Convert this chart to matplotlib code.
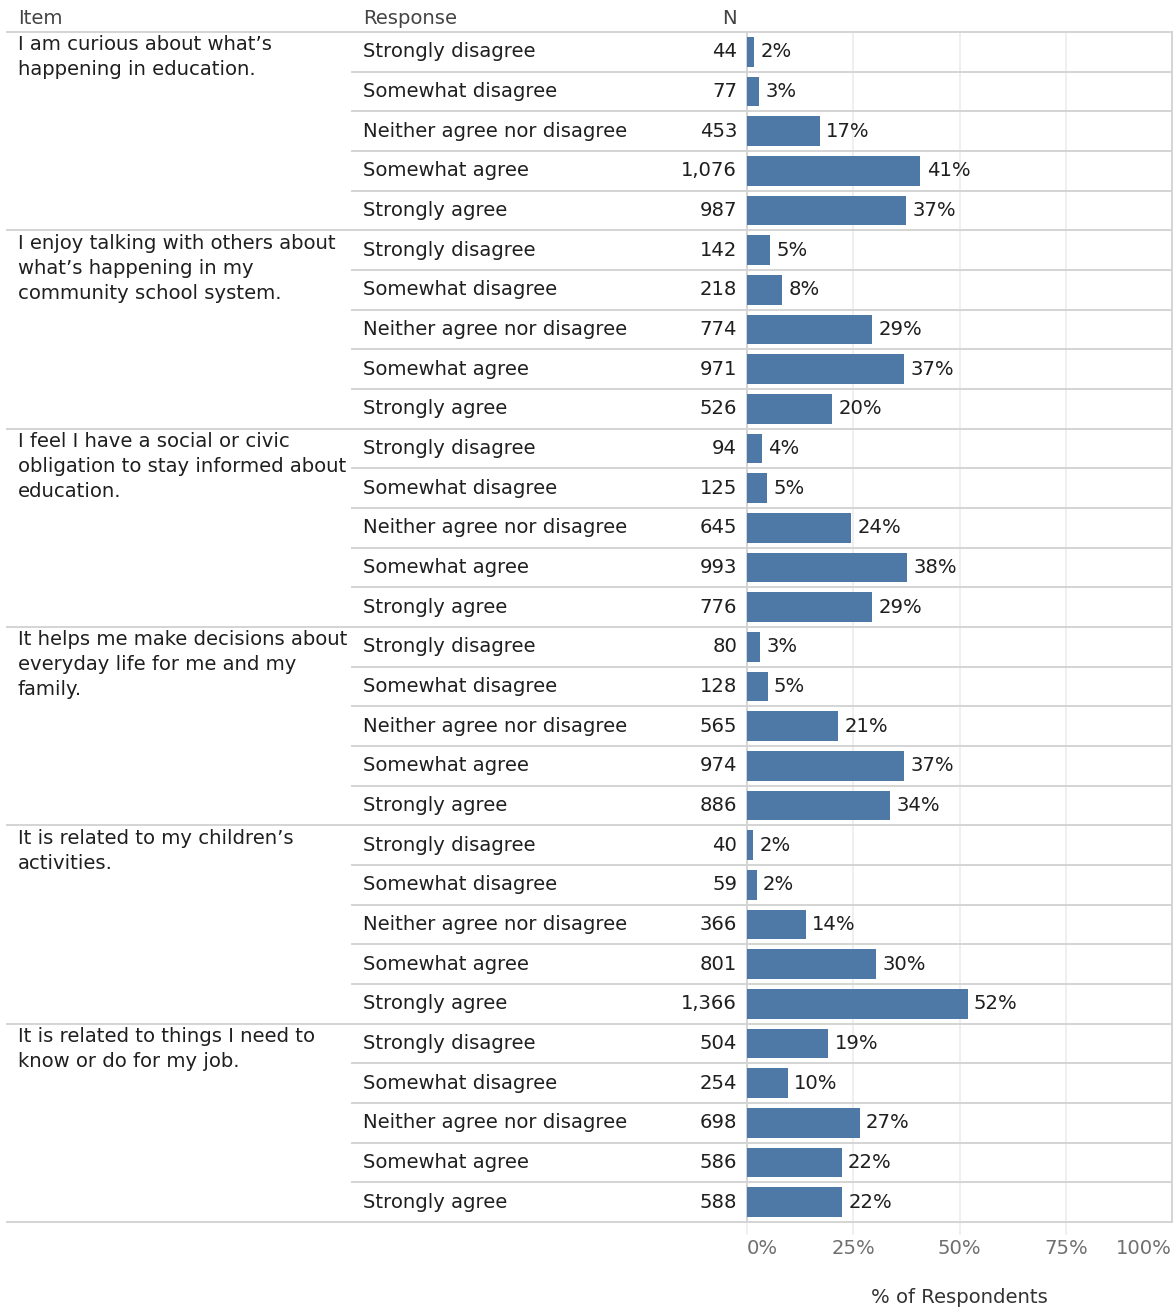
import matplotlib
matplotlib.use("Agg")
import matplotlib.pyplot as plt
from matplotlib.transforms import blended_transform_factory
from matplotlib.lines import Line2D

plt.rcParams['font.family'] = ['DejaVu Sans']

items = [
    "I am curious about what\u2019s\nhappening in education.",
    "I enjoy talking with others about\nwhat\u2019s happening in my\ncommunity school system.",
    "I feel I have a social or civic\nobligation to stay informed about\neducation.",
    "It helps me make decisions about\neveryday life for me and my\nfamily.",
    "It is related to my children\u2019s\nactivities.",
    "It is related to things I need to\nknow or do for my job.",
]
responses = ["Strongly disagree", "Somewhat disagree", "Neither agree nor disagree",
             "Somewhat agree", "Strongly agree"]
counts = [
    [44, 77, 453, 1076, 987],
    [142, 218, 774, 971, 526],
    [94, 125, 645, 993, 776],
    [80, 128, 565, 974, 886],
    [40, 59, 366, 801, 1366],
    [504, 254, 698, 586, 588],
]
x_ticks = [0, 25, 50, 75, 100]
x_tick_labels = ["0%", "25%", "50%", "75%", "100%"]

W, H = 1175, 1309
BAR = "#4e79a7"
TXT = "#1f1f1f"
HDR = "#444444"
RULE = "#d4d4d4"
GRID = "#ececec"
FS = 14.1

fig = plt.figure(figsize=(W / 100, H / 100), dpi=100)
x0, x1 = 747, 1172
y_top, y_bot = 32, 1222
ax = fig.add_axes([x0 / W, 1 - y_bot / H, (x1 - x0) / W, (y_bot - y_top) / H])

n_rows = len(items) * len(responses)
ax.set_xlim(0, 100)
ax.set_ylim(n_rows, 0)

tr = blended_transform_factory(fig.transFigure, ax.transData)
fx = lambda px: px / W

row = 0
for g, (item, grp) in enumerate(zip(items, counts)):
    total = sum(grp)
    ax.text(fx(18), row + 0.08, item, transform=tr, ha="left", va="top",
            fontsize=FS, color=TXT, linespacing=1.4)
    for resp, n in zip(responses, grp):
        pct = 100.0 * n / total
        yc = row + 0.5
        ax.barh(yc, pct, height=0.74, color=BAR, zorder=3)
        ax.annotate(f"{pct:.0f}%", (pct, yc), xytext=(4.5, 0), textcoords="offset points",
                    ha="left", va="center", fontsize=FS, color=TXT, zorder=4)
        ax.text(fx(363), yc, resp, transform=tr, ha="left", va="center",
                fontsize=FS, color=TXT)
        ax.text(fx(737), yc, f"{n:,}", transform=tr, ha="right", va="center",
                fontsize=FS, color=TXT)
        if row % len(responses) != 0:
            fig.add_artist(Line2D([fx(352), fx(x1)], [row, row], transform=tr,
                                  color=RULE, lw=1.4, zorder=5))
        row += 1

# group separators and outer rules
for r in range(0, n_rows + 1, len(responses)):
    fig.add_artist(Line2D([fx(7), fx(x1)], [r, r], transform=tr,
                          color=RULE, lw=1.4, zorder=5))

# headers
hdr_y = -0.35
ax.text(fx(18), hdr_y, "Item", transform=tr, ha="left", va="center", fontsize=FS, color=HDR)
ax.text(fx(363), hdr_y, "Response", transform=tr, ha="left", va="center", fontsize=FS, color=HDR)
ax.text(fx(737), hdr_y, "N", transform=tr, ha="right", va="center", fontsize=FS, color=HDR)

# grid and axis frame
for s in ["top", "bottom"]:
    ax.spines[s].set_visible(False)
for s in ["left", "right"]:
    ax.spines[s].set_color(RULE)
    ax.spines[s].set_linewidth(1.4)
for v in x_ticks[1:-1]:
    ax.axvline(v, color=GRID, lw=1.2, zorder=1)
    ax.plot([v, v], [n_rows, n_rows + 0.3], color=GRID, lw=1.2, clip_on=False)
ax.plot([0, 0], [n_rows, n_rows + 0.3], color="#eeeeee", lw=1.2, clip_on=False)

ax.set_yticks([])
ax.set_xticks(x_ticks)
ax.set_xticklabels(x_tick_labels, fontsize=FS, color="#707070")
ax.tick_params(axis="x", length=0, pad=12)
labs = ax.get_xticklabels()
labs[0].set_ha("left")
labs[-1].set_ha("right")
ax.set_xlabel("% of Respondents", fontsize=FS, color="#333333", labelpad=22)

fig.savefig("out.png", dpi=100, facecolor="white")
